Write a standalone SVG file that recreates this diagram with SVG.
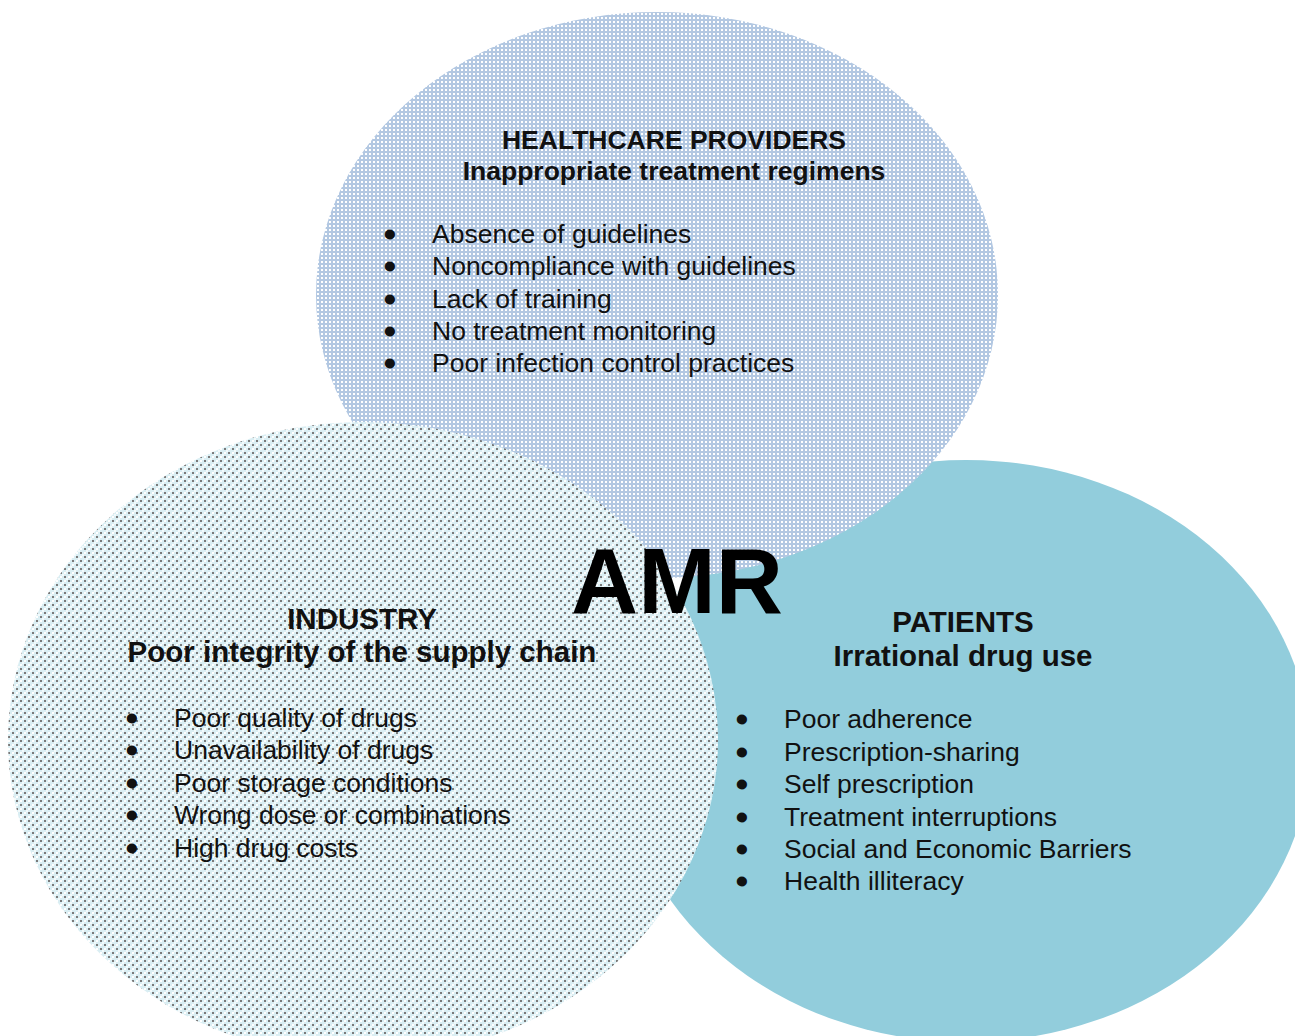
<svg xmlns="http://www.w3.org/2000/svg" width="1295" height="1036" viewBox="0 0 1295 1036">
  <defs>
    <pattern id="hcPat" patternUnits="userSpaceOnUse" width="4" height="4">
      <rect width="4" height="4" fill="#b3c8e2"/>
      <rect x="1" y="1" width="2" height="2" fill="#ffffff"/>
    </pattern>
    <pattern id="indPat" patternUnits="userSpaceOnUse" width="8" height="8">
      <rect width="8" height="8" fill="#daeef3"/>
      <rect x="0" y="0" width="2" height="2" fill="#7a7a7a"/>
      <rect x="4" y="0" width="2" height="2" fill="#ffffff"/>
      <rect x="0" y="4" width="2" height="2" fill="#ffffff"/>
      <rect x="4" y="4" width="2" height="2" fill="#7a7a7a"/>
      <rect x="2" y="2" width="2" height="2" fill="#ffffff" fill-opacity="0.7"/>
      <rect x="6" y="6" width="2" height="2" fill="#ffffff" fill-opacity="0.7"/>
    </pattern>
  </defs>
  <style>
    text { font-family: "Liberation Sans", Arial, sans-serif; fill: #111111; }
    .head { font-weight: bold; font-size: 26.5px; text-anchor: middle; }
    .head2 { font-weight: bold; font-size: 29.5px; text-anchor: middle; }
    .item { font-size: 26.5px; }
    .bul { font-size: 26.5px; text-anchor: middle; stroke: #111111; stroke-width: 3; }
    .amr { font-weight: bold; font-size: 93px; text-anchor: middle; fill: #000000; }
  </style>
  <rect width="1295" height="1036" fill="#ffffff"/>

  <g id="patients">
    <ellipse cx="966" cy="751" rx="344" ry="291" fill="#92cddc"/>
  </g>

  <g id="healthcare-providers">
    <ellipse cx="657" cy="295" rx="341" ry="283" fill="url(#hcPat)"/>
  </g>

  <g id="industry">
    <ellipse cx="363" cy="740" rx="355" ry="318" fill="url(#indPat)"/>
  </g>

  <g id="healthcare-text">
    <text class="head" x="674" y="149">HEALTHCARE PROVIDERS</text>
    <text class="head" x="674" y="180">Inappropriate treatment regimens</text>
    <text class="bul" x="390" y="243">•</text><text class="item" x="432" y="243">Absence of guidelines</text>
    <text class="bul" x="390" y="275">•</text><text class="item" x="432" y="275">Noncompliance with guidelines</text>
    <text class="bul" x="390" y="308">•</text><text class="item" x="432" y="308">Lack of training</text>
    <text class="bul" x="390" y="340">•</text><text class="item" x="432" y="340">No treatment monitoring</text>
    <text class="bul" x="390" y="372">•</text><text class="item" x="432" y="372">Poor infection control practices</text>
  </g>

  <g id="industry-text">
    <text class="head2" x="362" y="629">INDUSTRY</text>
    <text class="head2" x="362" y="662">Poor integrity of the supply chain</text>
    <text class="bul" x="132" y="727">•</text><text class="item" x="174" y="727">Poor quality of drugs</text>
    <text class="bul" x="132" y="759">•</text><text class="item" x="174" y="759">Unavailability of drugs</text>
    <text class="bul" x="132" y="792">•</text><text class="item" x="174" y="792">Poor storage conditions</text>
    <text class="bul" x="132" y="824">•</text><text class="item" x="174" y="824">Wrong dose or combinations</text>
    <text class="bul" x="132" y="857">•</text><text class="item" x="174" y="857">High drug costs</text>
  </g>

  <g id="patients-text">
    <text class="head2" x="963" y="632">PATIENTS</text>
    <text class="head2" x="963" y="666">Irrational drug use</text>
    <text class="bul" x="742" y="728">•</text><text class="item" x="784" y="728">Poor adherence</text>
    <text class="bul" x="742" y="761">•</text><text class="item" x="784" y="761">Prescription-sharing</text>
    <text class="bul" x="742" y="793">•</text><text class="item" x="784" y="793">Self prescription</text>
    <text class="bul" x="742" y="826">•</text><text class="item" x="784" y="826">Treatment interruptions</text>
    <text class="bul" x="742" y="858">•</text><text class="item" x="784" y="858">Social and Economic Barriers</text>
    <text class="bul" x="742" y="890">•</text><text class="item" x="784" y="890">Health illiteracy</text>
  </g>

  <g id="amr">
    <text class="amr" x="677" y="613">AMR</text>
  </g>
</svg>
